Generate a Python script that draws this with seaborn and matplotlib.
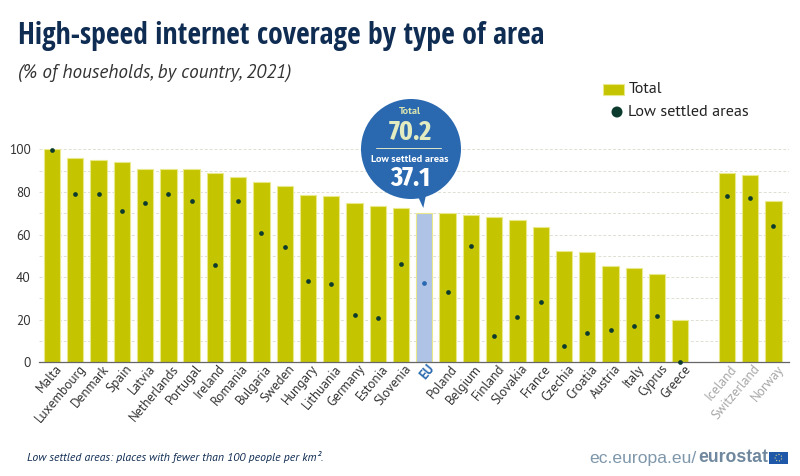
"""
High-speed internet coverage by type of area (Eurostat, 2021)
"""

import matplotlib
matplotlib.use('Agg')
import matplotlib.pyplot as plt
from matplotlib.patches import Circle, Polygon, Rectangle
from matplotlib.transforms import ScaledTranslation
import pandas as pd
import seaborn as sns

countries = ['Malta', 'Luxembourg', 'Denmark', 'Spain', 'Latvia', 'Netherlands', 'Portugal',
             'Ireland', 'Romania', 'Bulgaria', 'Sweden', 'Hungary', 'Lithuania', 'Germany',
             'Estonia', 'Slovenia', 'EU', 'Poland', 'Belgium', 'Finland', 'Slovakia', 'France',
             'Czechia', 'Croatia', 'Austria', 'Italy', 'Cyprus', 'Greece', ' ',
             'Iceland', 'Switzerland', 'Norway']
total = [100.0, 95.9, 95.0, 93.9, 90.8, 90.8, 90.6,
         88.9, 87.2, 84.7, 82.6, 78.7, 78.2, 75.0,
         73.4, 72.5, 70.2, 70.0, 69.0, 68.0, 66.8, 63.5,
         52.4, 51.6, 45.4, 44.1, 41.5, 19.7, None,
         88.7, 87.8, 75.7]
low_settled = [99.8, 78.9, 78.9, 71.2, 75.0, 78.9, 75.7,
               45.5, 75.6, 60.7, 54.0, 38.0, 36.8, 22.2,
               20.8, 46.2, 37.1, 33.0, 54.8, 12.5, 21.3, 28.5,
               7.5, 13.6, 15.3, 16.9, 22.0, 0.0, None,
               78.2, 77.3, 64.2]
y_ticks = [0, 20, 40, 60, 80, 100]
minor_grid = [10, 20, 30, 40, 50, 60, 70, 80, 90, 100]

OLIVE = '#c4c400'
OLIVE_EDGE = '#e9e98c'
EU_BAR = '#aec3e6'
BLUE = '#2a69b0'
DARK_DOT = '#0c3b2e'
NAVY = '#0f2c52'
GREY_LABEL = '#a6a6a6'
TEXT = '#333333'
MAIN_FONT = ['PT Sans', 'Open Sans', 'DejaVu Sans']
NARROW_FONT = ['Open Sans Condensed', 'Open Sans', 'DejaVu Sans']
NUMBER_FONT = ['Fira Sans Extra Condensed', 'Open Sans', 'DejaVu Sans']
W, H = 800, 476

df = pd.DataFrame({'country': countries, 'total': total, 'low': low_settled})
bar_colors = {c: (EU_BAR if c == 'EU' else OLIVE) for c in countries}
dot_colors = {c: (BLUE if c == 'EU' else DARK_DOT) for c in countries}

sns.set_theme(style='white')
plt.rcParams['font.family'] = MAIN_FONT

fig = plt.figure(figsize=(W / 100, H / 100), dpi=100, facecolor='white')
# axes box in pixels: x 39-789, y 149.3-362.4
ax = fig.add_axes([39 / W, 1 - 362.4 / H, 750 / W, 213.1 / H])

sns.barplot(data=df, x='country', y='total', hue='country', order=countries,
            palette=bar_colors, legend=False, width=0.7, edgecolor=OLIVE_EDGE,
            linewidth=0.8, saturation=1, ax=ax)
sns.stripplot(data=df, x='country', y='low', hue='country', order=countries,
              palette=dot_colors, legend=False, jitter=False, size=3.4, linewidth=0,
              clip_on=False, zorder=5, ax=ax)

ax.set_xlim(-0.559, 31.67)
ax.set_ylim(0, 100)
ax.set_xlabel('')
ax.set_ylabel('')
for v in minor_grid:
    ax.axhline(v, color='#dfdfd2', lw=0.7, ls=(0, (3, 2)), zorder=0)
ax.set_axisbelow(True)
for side in ['top', 'right', 'left']:
    ax.spines[side].set_visible(False)
ax.spines['bottom'].set_color('#666666')
ax.spines['bottom'].set_linewidth(0.9)

ax.set_yticks(y_ticks)
ax.tick_params(axis='y', length=0, pad=6, labelsize=9.5, labelcolor=TEXT)
ax.tick_params(axis='x', length=0, pad=3)
ax.set_xticks(range(len(countries)))
ax.set_xticklabels(countries, rotation=50, ha='right', va='center',
                   rotation_mode='anchor', fontsize=9.5, color=TEXT)
shift = ScaledTranslation(8 / 100, 0, fig.dpi_scale_trans)
for lab in ax.get_xticklabels():
    lab.set_transform(lab.get_transform() + shift)
    name = lab.get_text()
    if name == 'EU':
        lab.set_color(BLUE)
        lab.set_fontweight('bold')
    elif name in ['Iceland', 'Switzerland', 'Norway']:
        lab.set_color(GREY_LABEL)

# overlay in pixel coordinates for the titles, legend, bubble and logo
ov = fig.add_axes([0, 0, 1, 1], facecolor='none')
ov.set_xlim(0, W)
ov.set_ylim(H, 0)
ov.axis('off')

ov.text(18, 36, 'High-speed internet coverage by type of area', fontsize=21.4, fontweight='bold',
        color=NAVY, va='center', family=NARROW_FONT)
ov.text(18, 72.5, '(% of households, by country, 2021)', fontsize=13.8, style='italic',
        color=TEXT, va='center')

# legend
ov.add_patch(Rectangle((603, 84), 21, 11, fc=OLIVE, ec=OLIVE_EDGE, lw=0.8))
ov.text(629, 89, 'Total', fontsize=11.7, color='#222222', va='center')
ov.add_patch(Circle((617, 112), 5.5, fc=DARK_DOT, ec='none'))
ov.text(628, 112, 'Low settled areas', fontsize=11.7, color='#222222', va='center')

# EU bubble
ov.add_patch(Circle((411, 149), 50, fc=BLUE, ec='none', zorder=6))
ov.add_patch(Polygon([(415, 190), (427, 190), (423.3, 208)], fc=BLUE, ec='none', zorder=6))
ov.plot([376, 441], [148, 148], color='#dfe6c8', lw=0.7, zorder=7)
ov.text(410, 112, 'Total', fontsize=7.5, fontweight='bold', color='#d9e4b0', ha='center',
        va='center', zorder=7)
ov.text(410, 132, '70.2', fontsize=20, fontweight='bold', color='#e3ebc0', ha='center',
        va='center', zorder=7, family=NUMBER_FONT)
ov.text(410, 159, 'Low settled areas', fontsize=7.5, fontweight='bold', color='white',
        ha='center', va='center', zorder=7)
ov.text(410, 178, '37.1', fontsize=20, fontweight='bold', color='white', ha='center',
        va='center', zorder=7, family=NUMBER_FONT)

# footnote and logo
ov.text(27, 457, 'Low settled areas: places with fewer than 100 people per km².',
        fontsize=8.5, style='italic', color=NAVY, va='center')
ov.text(696, 458, 'ec.europa.eu/', fontsize=12.6, color='#7f97ab', ha='right', va='center',
        family=['Liberation Sans', 'DejaVu Sans'])
ov.text(768, 458, 'eurostat', fontsize=12.7, fontweight='bold', color='#6f889e', ha='right',
        va='center', family=['Liberation Sans', 'DejaVu Sans'])
ov.add_patch(Rectangle((769, 452), 19, 11.5, fc='#1f58a8', ec='none'))
ov.add_patch(Circle((778.5, 457.7), 3.3, fc='none', ec='#d8d48a', lw=0.8, ls=':'))

fig.savefig('out.png', dpi=100)
